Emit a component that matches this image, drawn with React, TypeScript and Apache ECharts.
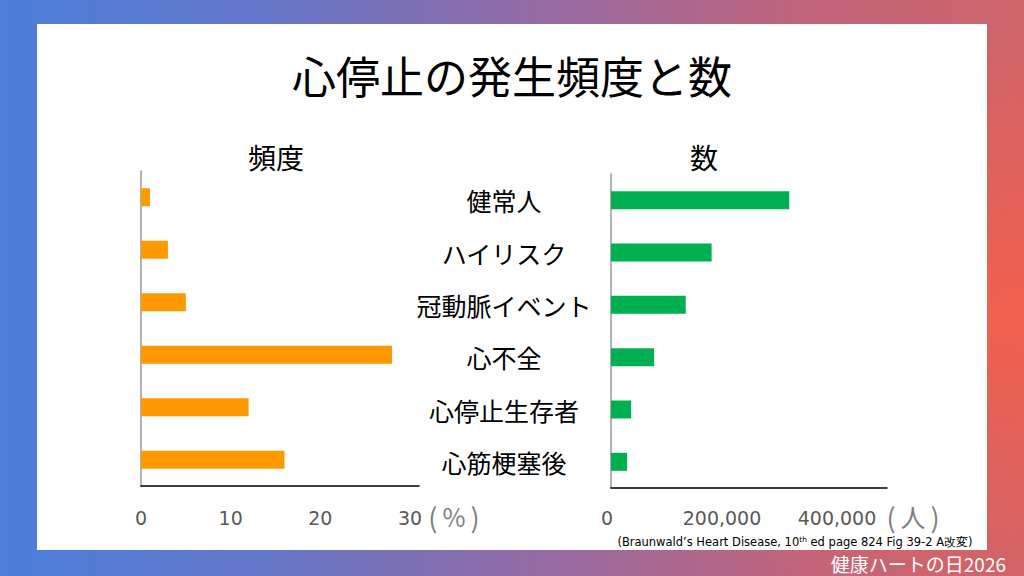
import React, { useEffect, useRef } from "react";
import * as echarts from "echarts";

const categories = ["健常人", "ハイリスク", "冠動脈イベント", "心不全", "心停止生存者", "心筋梗塞後"];
const frequencyPct = [1, 3, 5, 28, 12, 16];
const annualCount = [310000, 175000, 130000, 75000, 35000, 28000];
const mainTitle = "心停止の発生頻度と数";
const leftTitle = "頻度";
const rightTitle = "数";
const leftUnit = "%";
const rightUnit = "人";
const footer = "健康ハートの日2026";

const JP = '"Noto Sans CJK JP", "Noto Sans", sans-serif';
const NUM = '"DejaVu Sans", "Noto Sans", sans-serif';

const unitRich = {
  p: { fontSize: 27, fontFamily: JP, fill: "#7f7f7f", padding: [0, 5, 0, 5] },
  q: { fontSize: 25, fontFamily: JP, fill: "#7f7f7f" },
};

export default function App() {
  const ref = useRef<HTMLDivElement>(null);
  useEffect(() => {
    if (!ref.current) return;
    const chart = echarts.init(ref.current, undefined, { renderer: "svg" });
    const option: any = {
      animation: false,
      backgroundColor: new echarts.graphic.LinearGradient(0, 0, 1, 0, [
        { offset: 0, color: "#4b7dda" },
        { offset: 0.25, color: "#6276c8" },
        { offset: 0.5, color: "#8f6ca8" },
        { offset: 0.78, color: "#c0657c" },
        { offset: 1, color: "#cf6468" },
      ]),
      graphic: [
        {
          type: "rect",
          z: -20,
          silent: true,
          shape: { x: 0, y: 0, width: 1024, height: 576 },
          style: {
            fill: new echarts.graphic.RadialGradient(1, 0.55, 0.5, [
              { offset: 0, color: "rgba(248,95,72,0.85)" },
              { offset: 1, color: "rgba(248,95,72,0)" },
            ]),
          },
        },
        {
          type: "rect",
          z: -10,
          silent: true,
          shape: { x: 37, y: 24, width: 950, height: 526 },
          style: { fill: "#ffffff" },
        },
        {
          type: "text",
          x: 512,
          y: 75,
          style: { text: mainTitle, font: `44px ${JP}`, fill: "#000", align: "center", verticalAlign: "middle" },
        },
        {
          type: "text",
          x: 276,
          y: 157,
          style: { text: leftTitle, font: `28px ${JP}`, fill: "#000", align: "center", verticalAlign: "middle" },
        },
        {
          type: "text",
          x: 704,
          y: 157,
          style: { text: rightTitle, font: `28px ${JP}`, fill: "#000", align: "center", verticalAlign: "middle" },
        },
        {
          type: "text",
          x: 454,
          y: 516,
          style: {
            text: `{p|(}{q|${leftUnit}}{p|)}`,
            align: "center",
            verticalAlign: "middle",
            rich: unitRich,
          },
        },
        {
          type: "text",
          x: 913,
          y: 516,
          style: {
            text: `{p|(}{q|${rightUnit}}{p|)}`,
            align: "center",
            verticalAlign: "middle",
            rich: unitRich,
          },
        },
        {
          type: "text",
          x: 795,
          y: 542,
          style: {
            text: "{a|(Braunwald’s Heart Disease, 10}{s|th}{a| ed page 824 Fig 39-2 A改変)}",
            align: "center",
            verticalAlign: "middle",
            rich: {
              a: { fontSize: 11.5, fontFamily: NUM, fill: "#000", lineHeight: 14 },
              s: { fontSize: 7.5, fontFamily: NUM, fill: "#000", lineHeight: 14, padding: [0, 0, 6, 0] },
            },
          },
        },
        {
          type: "text",
          x: 1006,
          y: 563,
          style: {
            text: footer,
            font: `19px ${JP}`,
            lineHeight: 20,
            fill: "#ffffff",
            align: "right",
            verticalAlign: "middle",
          },
        },
      ],
      grid: [
        { left: 141, top: 171, width: 278, height: 315 },
        { left: 611, top: 174, width: 276, height: 314 },
      ],
      xAxis: [
        {
          gridIndex: 0,
          type: "value",
          min: 0,
          max: 31,
          interval: 10,
          axisLine: { show: true, lineStyle: { color: "#000", width: 1.5 } },
          axisTick: { show: false },
          splitLine: { show: false },
          axisLabel: { showMaxLabel: false, margin: 22, fontSize: 19, color: "#595959", fontFamily: NUM },
        },
        {
          gridIndex: 1,
          type: "value",
          min: 0,
          max: 480000,
          interval: 200000,
          axisLine: { show: true, lineStyle: { color: "#000", width: 1.5 } },
          axisTick: { show: false },
          splitLine: { show: false },
          axisLabel: {
            showMaxLabel: false,
            margin: 20,
            fontSize: 19,
            color: "#595959",
            fontFamily: NUM,
            padding: [0, 8, 0, 0],
            formatter: (v: number) => v.toLocaleString("en-US"),
          },
        },
      ],
      yAxis: [
        {
          gridIndex: 0,
          type: "category",
          inverse: true,
          data: categories,
          axisLine: { show: true, lineStyle: { color: "#b3b3b3", width: 2 } },
          axisTick: { show: false },
          axisLabel: { show: false },
        },
        {
          gridIndex: 1,
          type: "category",
          inverse: true,
          data: categories,
          axisLine: { show: true, lineStyle: { color: "#b3b3b3", width: 2 } },
          axisTick: { show: false },
          axisLabel: {
            show: true,
            align: "center",
            margin: 107,
            fontSize: 25,
            color: "#000",
            fontFamily: JP,
            padding: [0, 0, 6, 0],
          },
        },
      ],
      series: [
        {
          type: "bar",
          xAxisIndex: 0,
          yAxisIndex: 0,
          data: frequencyPct,
          barWidth: 18,
          itemStyle: { color: "#FF9900" },
        },
        {
          type: "bar",
          xAxisIndex: 1,
          yAxisIndex: 1,
          data: annualCount,
          barWidth: 18,
          itemStyle: { color: "#00B050" },
        },
      ],
    };
    chart.setOption(option);
    return () => chart.dispose();
  }, []);
  return (
    <div
      ref={ref}
      style={{ position: "fixed", left: 0, top: 0, width: 1024, height: 576 }}
    />
  );
}
